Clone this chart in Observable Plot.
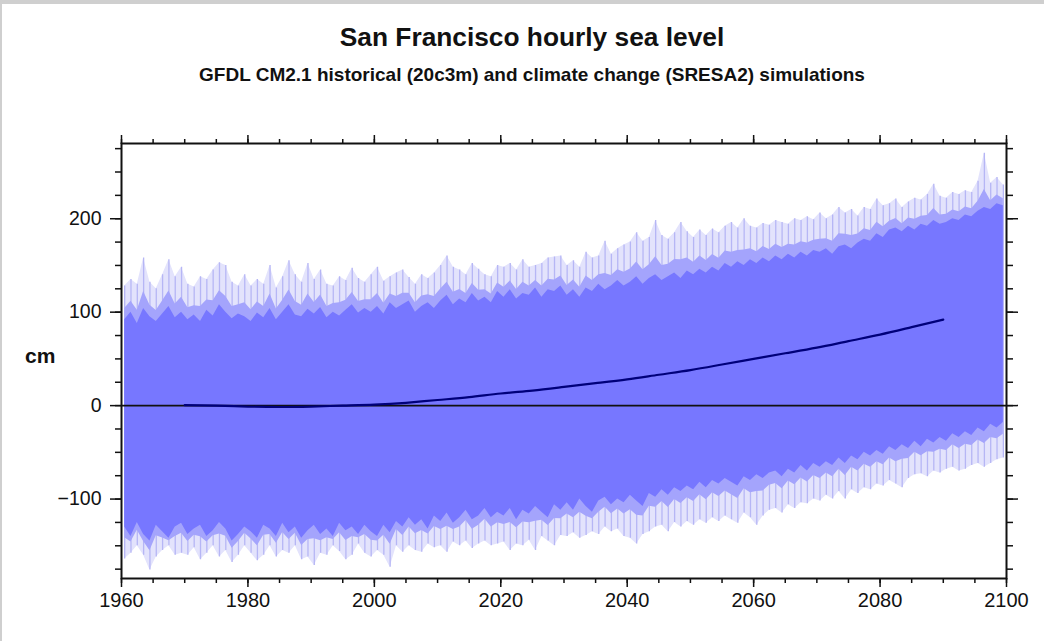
<!DOCTYPE html>
<html>
<head>
<meta charset="utf-8">
<script src="https://cdn.jsdelivr.net/npm/d3@7"></script>
<script src="https://cdn.jsdelivr.net/npm/@observablehq/plot@0.6"></script>
<style>
  html, body { margin: 0; padding: 0; background: #cfcfcf; }
  #page { position: absolute; left: 2px; top: 4px; width: 1042px; height: 637px; background: #fff; overflow: hidden; }
  #chart { position: absolute; left: 0; top: 0; }
  .t { position: absolute; left: -2px; width: 1064px; text-align: center; font-family: "Liberation Sans", Arial, sans-serif; font-weight: bold; color: #111; }
  #title { top: 18px; font-size: 26.3px; }
  #subtitle { top: 60px; font-size: 19px; }
  #ylab { position: absolute; left: 23px; top: 340px; font-family: "Liberation Sans", Arial, sans-serif; font-weight: bold; font-size: 21px; color: #111; }
</style>
</head>
<body>
<div id="page">
  <div id="chart"></div>
  <div class="t" id="title">San Francisco hourly sea level</div>
  <div class="t" id="subtitle">GFDL CM2.1 historical (20c3m) and climate change (SRESA2) simulations</div>
  <div id="ylab">cm</div>
</div>
<script>
// Yearly statistics of the hourly series (year, plotted at mid-year)
const years = d3.range(1960, 2100);
// yearly maximum (cm)
const hi = [
  128,135,130,158,132,125,140,156,138,148,
  130,127,138,135,145,153,150,132,128,140,
  128,135,130,150,126,138,155,140,132,152,
  135,145,130,128,138,134,147,136,132,140,
  148,133,138,142,145,137,130,140,136,142,
  150,160,148,145,140,152,146,140,138,150,
  148,152,145,156,148,150,152,158,159,160,
  150,155,148,164,158,160,176,162,168,172,
  175,185,176,180,198,182,178,185,196,186,
  180,188,182,189,185,192,196,190,200,192,
  190,195,193,198,196,194,200,198,202,199,
  206,200,204,212,206,210,203,212,210,221,
  214,216,221,212,218,222,220,226,237,224,
  222,228,226,230,228,240,270,238,244,236
];
// top of the dense band (cm)
const hiDense = [
  92,100,88,104,95,90,98,106,94,100,
  92,97,90,102,96,108,100,93,98,95,
  90,99,94,104,92,100,108,97,95,103,
  98,105,94,100,96,102,108,99,104,100,
  106,98,110,104,108,112,100,106,110,104,
  112,118,108,114,110,120,112,116,110,122,
  116,124,114,120,118,126,116,124,122,128,
  118,124,116,126,122,130,124,128,134,128,
  132,138,130,136,140,134,138,142,136,144,
  140,146,142,148,144,152,148,154,150,156,
  152,158,154,160,156,162,158,164,160,166,
  164,168,162,170,172,168,174,178,176,184,
  180,188,190,186,192,188,194,192,198,194,
  196,200,198,204,202,208,212,210,216,214
];
// bottom of the dense band (cm)
const loDense = [
  -130,-140,-125,-138,-145,-128,-135,-142,-130,-126,
  -138,-132,-128,-140,-134,-125,-132,-145,-138,-130,
  -135,-142,-128,-132,-140,-126,-136,-130,-142,-134,
  -128,-138,-132,-140,-126,-134,-130,-138,-128,-135,
  -140,-128,-136,-124,-130,-120,-128,-122,-132,-118,
  -124,-115,-126,-120,-112,-122,-118,-110,-120,-114,
  -118,-110,-122,-112,-116,-108,-114,-120,-106,-112,
  -104,-112,-100,-108,-114,-102,-98,-106,-100,-104,
  -96,-102,-108,-94,-98,-90,-96,-88,-92,-86,
  -90,-82,-88,-80,-84,-78,-82,-86,-76,-80,
  -74,-78,-72,-70,-76,-68,-72,-64,-70,-62,
  -66,-60,-64,-56,-62,-54,-58,-50,-54,-48,
  -52,-44,-48,-42,-46,-38,-44,-36,-40,-34,
  -38,-30,-34,-28,-32,-24,-28,-20,-24,-18
];
// yearly minimum (cm)
const lo = [
  -164,-158,-150,-160,-176,-162,-155,-150,-160,-158,
  -160,-152,-165,-158,-150,-162,-155,-168,-160,-150,
  -158,-166,-160,-150,-162,-155,-158,-150,-165,-162,
  -171,-158,-160,-150,-156,-165,-160,-148,-158,-162,
  -155,-160,-173,-150,-157,-150,-155,-157,-148,-152,
  -150,-157,-146,-150,-145,-153,-148,-145,-150,-148,
  -146,-155,-148,-150,-144,-155,-140,-145,-150,-139,
  -140,-136,-142,-139,-135,-138,-130,-135,-132,-140,
  -142,-148,-138,-135,-130,-128,-135,-125,-130,-124,
  -128,-122,-126,-120,-124,-118,-122,-126,-115,-120,
  -128,-118,-112,-110,-115,-106,-110,-104,-105,-100,
  -102,-96,-100,-92,-100,-90,-94,-88,-90,-84,
  -86,-80,-84,-88,-78,-74,-73,-76,-70,-72,
  -68,-66,-70,-68,-64,-62,-66,-62,-58,-56
];
// smoothed mean sea level
const meanYears = [1970,1975,1980,1985,1990,1995,2000,2005,2010,2015,2020,2025,2030,2035,2040,2045,2050,2055,2060,2065,2070,2075,2080,2085,2090];
const meanVals  = [0.5,0,-1,-1.5,-1,0,1,3,6,9,13,16,20,24,28,33,38,44,50,56,62,69,76,84,92];

const xMajor = d3.range(1960, 2101, 20);
const xMinor = d3.range(1960, 2101, 5);
const yMajor = [-100, 0, 100, 200];
const yMinor = d3.range(-175, 276, 25);

const stats = years.map((y, i) => ({year: y + 0.5, hi: hi[i], hiDense: hiDense[i], loDense: loDense[i], lo: lo[i]}));
const mean = meanYears.map((y, i) => ({year: y, v: meanVals[i]}));

const font = "Liberation Sans, Arial, sans-serif";
const blank = () => "";

const plot = Plot.plot({
  width: 1042,
  height: 637,
  marginLeft: 119,
  marginRight: 38,
  marginTop: 139,
  marginBottom: 63,
  style: {fontFamily: font, background: "transparent", color: "#111"},
  x: {domain: [1960, 2100], label: null},
  y: {domain: [-185, 280.5], label: null},
  marks: [
    Plot.areaY(stats, {x: "year", y1: "lo", y2: "hi", fill: "#e3e3fc"}),
    Plot.ruleX(stats, {x: "year", y1: "lo", y2: "hi", stroke: "#b6b6f5", strokeWidth: 1.3}),
    Plot.areaY(stats, {x: "year", y1: d => (d.lo + 2 * d.loDense) / 3, y2: d => (d.hi + 2 * d.hiDense) / 3, fill: "#a4a4fc"}),
    Plot.areaY(stats, {x: "year", y1: "loDense", y2: "hiDense", fill: "#7777ff"}),
    Plot.ruleY([0], {stroke: "#111", strokeWidth: 1.6}),
    Plot.line(mean, {x: "year", y: "v", stroke: "#00007a", strokeWidth: 2.2, curve: "natural"}),
    Plot.frame({stroke: "#111", strokeWidth: 2}),
    Plot.axisX({anchor: "bottom", ticks: xMajor, tickSize: 9, tickPadding: 5, fontSize: 20, tickFormat: d => String(d), strokeWidth: 1.5, label: null}),
    Plot.axisX({anchor: "bottom", ticks: xMinor, tickSize: 5, tickFormat: blank, strokeWidth: 1.5, label: null}),
    Plot.axisX({anchor: "top", ticks: xMajor, tickSize: 9, tickFormat: blank, strokeWidth: 1.5, label: null}),
    Plot.axisX({anchor: "top", ticks: xMinor, tickSize: 5, tickFormat: blank, strokeWidth: 1.5, label: null}),
    Plot.axisY({anchor: "left", ticks: yMajor, tickSize: 11, tickPadding: 9, fontSize: 19.5, tickFormat: d => d < 0 ? "\u2212" + Math.abs(d) : String(d), strokeWidth: 1.5, label: null}),
    Plot.axisY({anchor: "left", ticks: yMinor, tickSize: 6, tickFormat: blank, strokeWidth: 1.5, label: null}),
    Plot.axisY({anchor: "right", ticks: yMajor, tickSize: 11, tickFormat: blank, strokeWidth: 1.5, label: null}),
    Plot.axisY({anchor: "right", ticks: yMinor, tickSize: 6, tickFormat: blank, strokeWidth: 1.5, label: null})
  ]
});
document.getElementById("chart").appendChild(plot);
</script>
</body>
</html>
